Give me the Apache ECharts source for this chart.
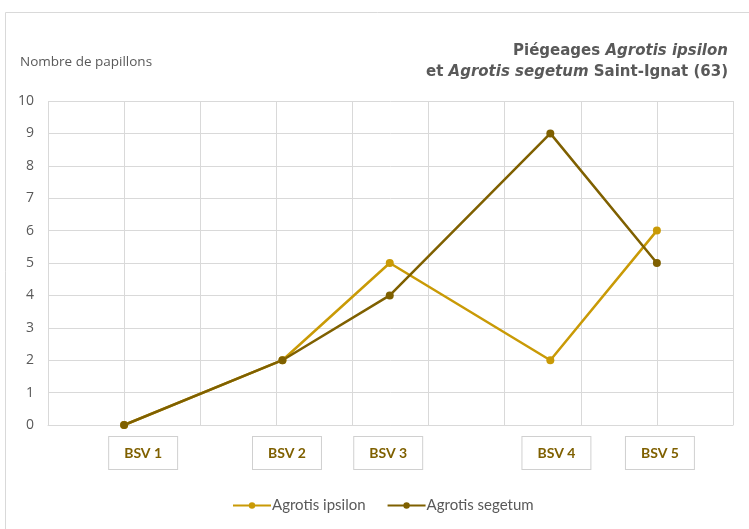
<!DOCTYPE html>
<html>
<head>
<meta charset="utf-8">
<script src="https://cdn.jsdelivr.net/npm/echarts@6/dist/echarts.min.js"></script>
<style>
html,body{margin:0;padding:0;background:#fff;}
#c{width:749px;height:529px;}
</style>
</head>
<body>
<div id="c"></div>
<script>
// Data
const categories = ['BSV 1', 'BSV 2', 'BSV 3', 'BSV 4', 'BSV 5'];
const xPositions = [1, 3.08, 4.49, 6.6, 8];          // time position of each BSV (axis units)
const ipsilon = [0, 2, 5, 2, 6];
const segetum = [0, 2, 4, 9, 5];
const yTicks = [0, 1, 2, 3, 4, 5, 6, 7, 8, 9, 10];

const chart = echarts.init(document.getElementById('c'));

// label box anchors (axis units) for the BSV text boxes
const labelAt = [1.25, 3.14, 4.47, 6.68, 8.04];

const pair = (vals) => vals.map((v, i) => [xPositions[i], v]);

const richTitle = {
  b: { fontFamily: 'DejaVu Sans', fontWeight: 'bold', fontSize: 15, color: '#595959' },
  i: { fontFamily: 'DejaVu Sans', fontStyle: 'italic', fontSize: 15, color: '#595959' },
  n: { fontFamily: 'DejaVu Sans', fontSize: 15, color: '#595959' }
};

chart.setOption({
  animation: false,
  backgroundColor: '#fff',
  graphic: [{
    type: 'rect',
    shape: { x: 5.5, y: 12.5, width: 760, height: 530 },
    style: { fill: 'none', stroke: '#d9d9d9', lineWidth: 1 },
    silent: true
  }],
  title: [{
    right: 21,
    top: 44,
    padding: 0,
    text: '{b|Piégeages }{i|Agrotis ipsilon}',
    textStyle: { rich: richTitle }
  }, {
    right: 21,
    top: 65,
    padding: 0,
    text: '{n|et }{i|Agrotis segetum }{b|Saint-Ignat (63)}',
    textStyle: { rich: richTitle }
  }],
  legend: {
    bottom: 11,
    left: 227,
    itemWidth: 38,
    itemHeight: 8,
    itemGap: 21,
    textStyle: { fontFamily: 'Lato', fontSize: 15, color: '#595959', padding: [0, 0, 0, -4] },
    data: ['Agrotis ipsilon', 'Agrotis segetum']
  },
  grid: { left: 48, right: 16, top: 101, bottom: 104 },
  xAxis: [{
    type: 'value',
    min: 0, max: 9, interval: 1,
    axisLine: { show: true, lineStyle: { color: '#d9d9d9' } },
    axisTick: { show: false },
    axisLabel: { show: false },
    splitLine: { show: true, lineStyle: { color: '#d9d9d9' } }
  }, {
    type: 'value',
    position: 'bottom',
    min: 0, max: 9,
    axisLine: { show: false },
    axisTick: { show: false },
    splitLine: { show: false },
    axisLabel: {
      show: true,
      customValues: labelAt,
      margin: 12,
      formatter: (v) => {
        const idx = labelAt.findIndex(p => Math.abs(p - v) < 1e-6);
        return idx >= 0 ? categories[idx] : '';
      },
      fontFamily: 'Lato',
      fontWeight: 'bold',
      fontSize: 14,
      color: '#7f6000',
      borderColor: '#d0d0d0',
      borderWidth: 1,
      padding: [8, 15, 8, 15],
      lineHeight: 16,
      backgroundColor: '#fff'
    }
  }],
  yAxis: {
    type: 'value',
    min: yTicks[0], max: yTicks[yTicks.length - 1], interval: 1,
    name: 'Nombre de papillons',
    nameLocation: 'end',
    nameGap: 32,
    nameTextStyle: { fontFamily: 'Open Sans', fontSize: 13.5, color: '#595959', align: 'left', padding: [0, 0, 0, -28] },
    axisLine: { show: false },
    axisTick: { show: false },
    axisLabel: { fontFamily: 'Open Sans', fontSize: 14, color: '#595959', margin: 14 },
    splitLine: { show: true, lineStyle: { color: '#d9d9d9' } }
  },
  series: [{
    name: 'Agrotis ipsilon',
    type: 'line',
    xAxisIndex: 0,
    data: pair(ipsilon),
    symbol: 'circle',
    symbolSize: 8,
    lineStyle: { color: '#c99a06', width: 2.5 },
    itemStyle: { color: '#c99a06' }
  }, {
    name: 'Agrotis segetum',
    type: 'line',
    xAxisIndex: 0,
    data: pair(segetum),
    symbol: 'circle',
    symbolSize: 8,
    lineStyle: { color: '#7f6000', width: 2.5 },
    itemStyle: { color: '#7f6000' }
  }]
});
</script>
</body>
</html>
